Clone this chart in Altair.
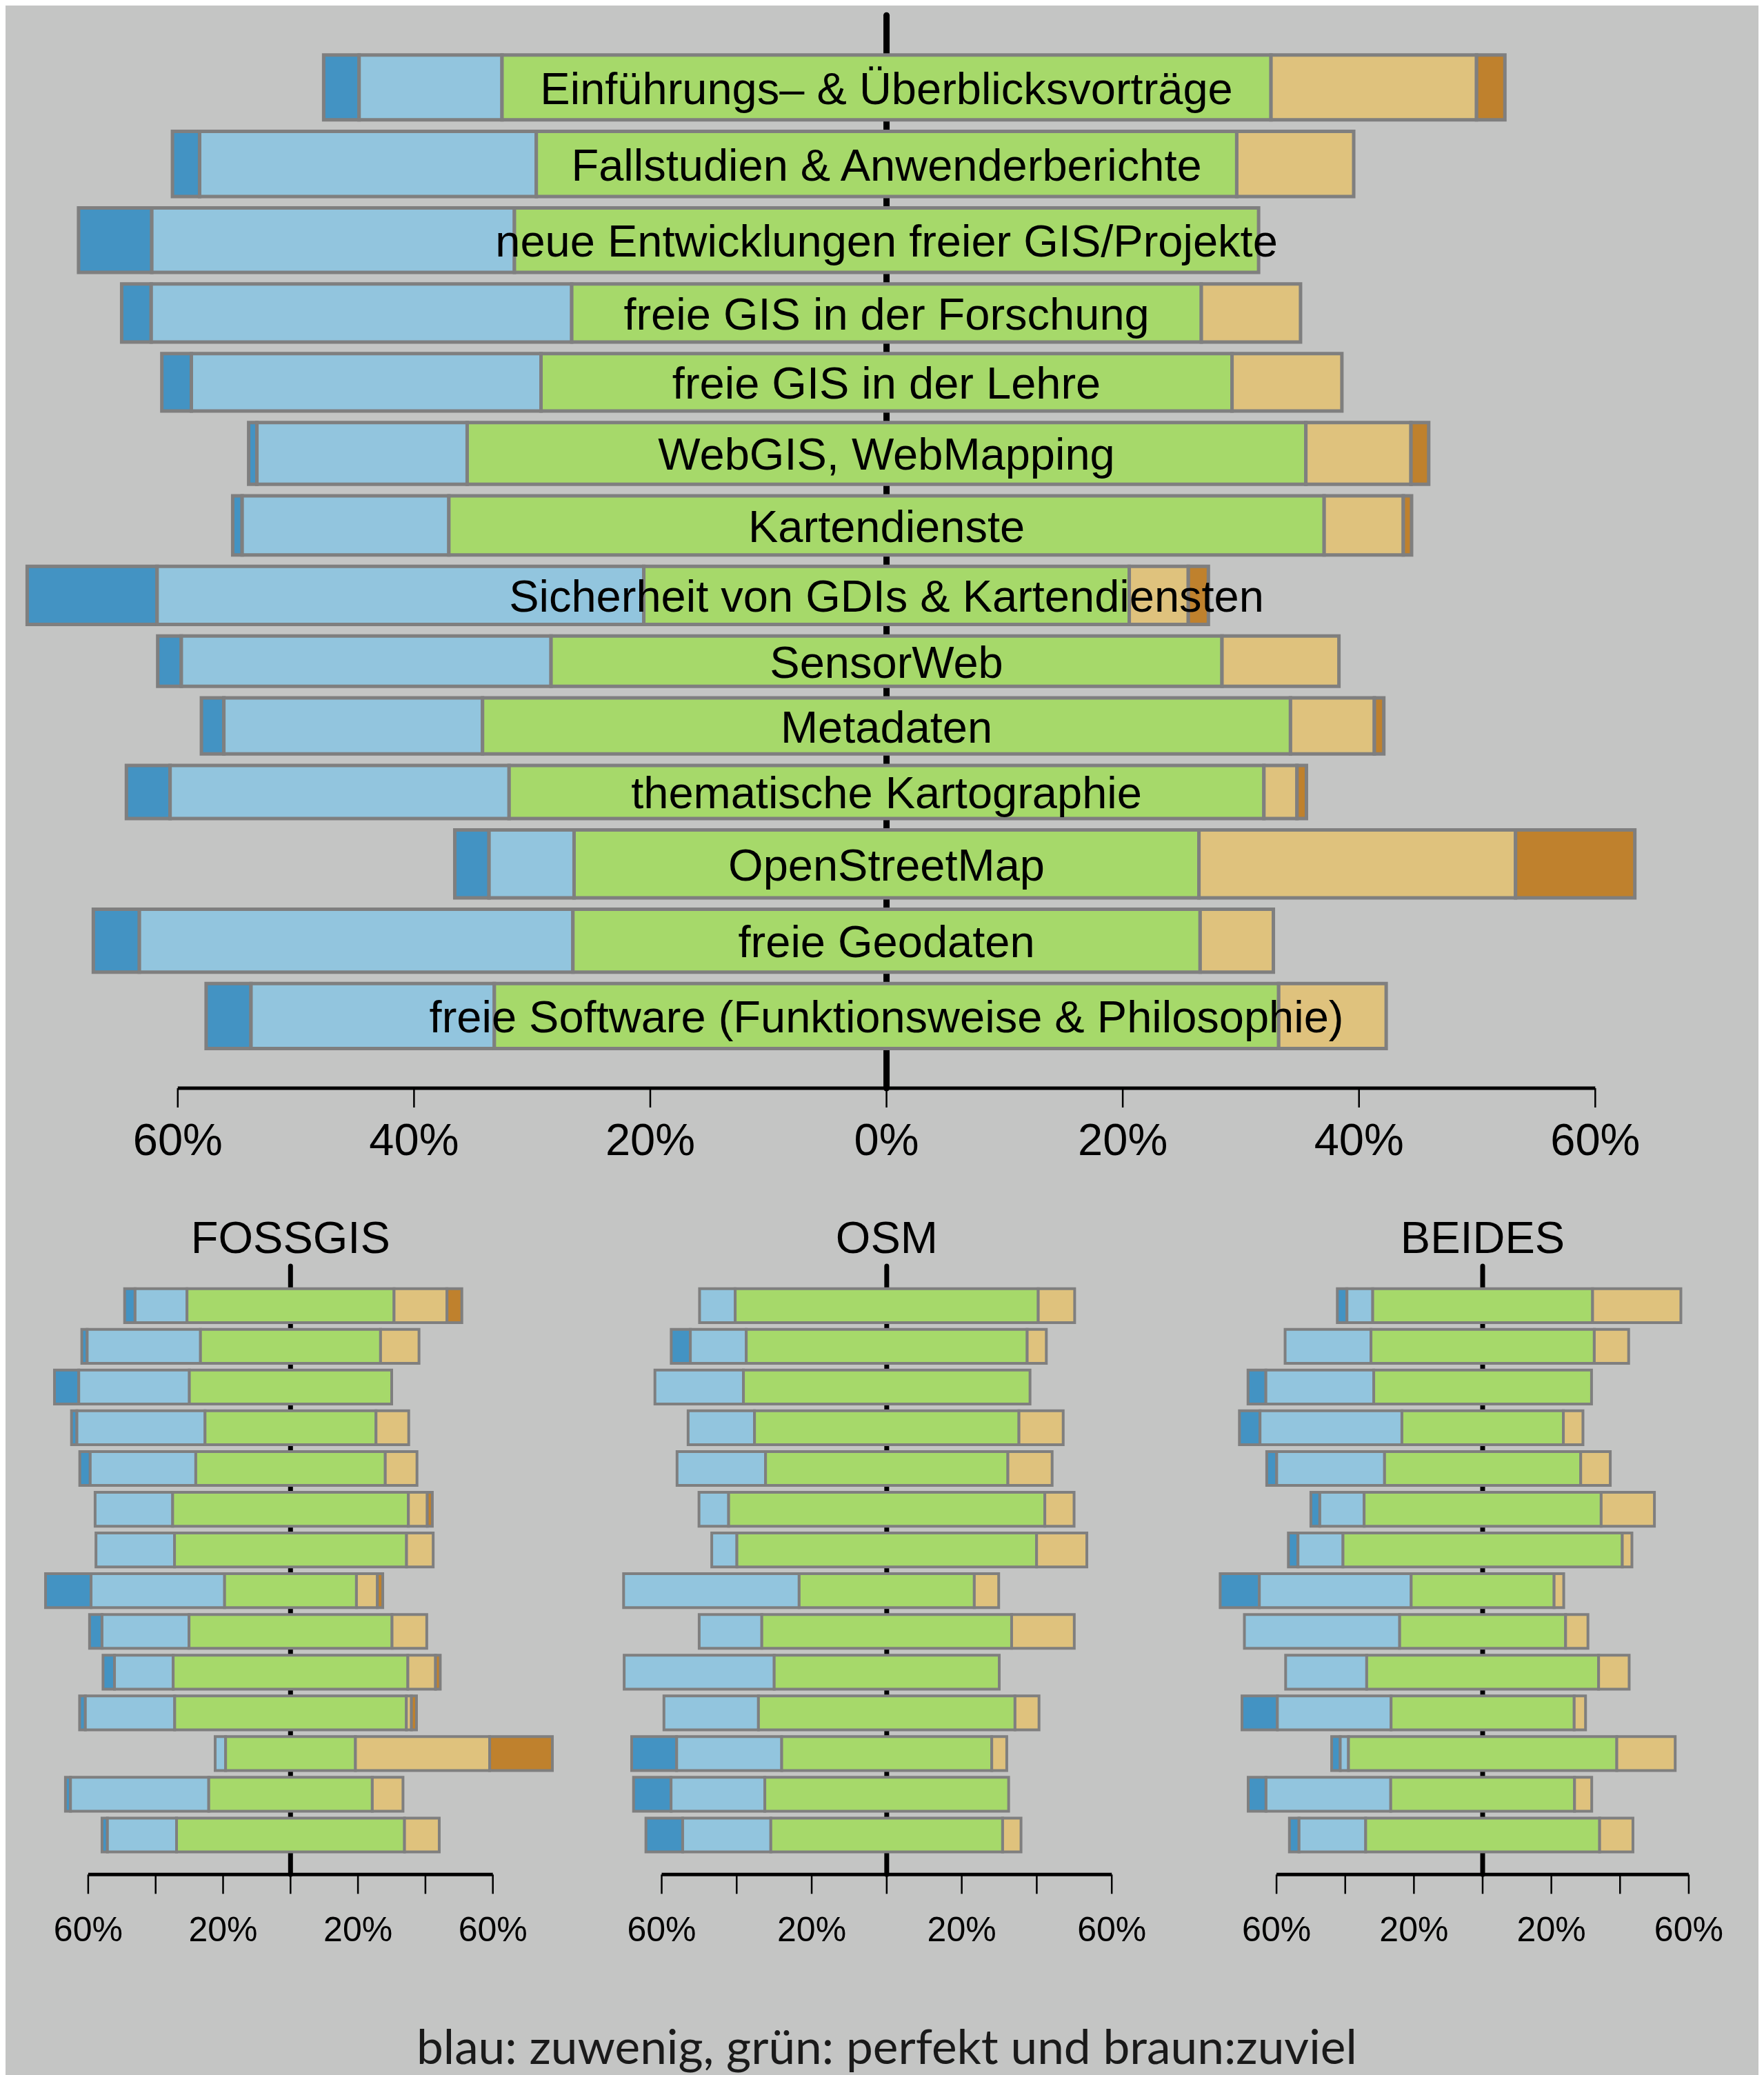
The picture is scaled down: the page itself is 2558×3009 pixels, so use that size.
import altair as alt
import pandas as pd

# ---------------------------------------------------------------- data
kategorien = [
    "Einführungs– & Überblicksvorträge",
    "Fallstudien & Anwenderberichte",
    "neue Entwicklungen freier GIS/Projekte",
    "freie GIS in der Forschung",
    "freie GIS in der Lehre",
    "WebGIS, WebMapping",
    "Kartendienste",
    "Sicherheit von GDIs & Kartendiensten",
    "SensorWeb",
    "Metadaten",
    "thematische Kartographie",
    "OpenStreetMap",
    "freie Geodaten",
    "freie Software (Funktionsweise & Philosophie)",
]

stufen = ["stark zuwenig", "zuwenig", "perfekt", "zuviel", "stark zuviel"]
farben = ["#4393C3", "#92C5DE", "#A6D96A", "#DFC27D", "#BF812D"]

# overall panel (percent)
gesamt_stark_zuwenig = [3.0, 2.3, 6.2, 2.5, 2.5, 0.7, 0.8, 11.0, 2.0, 1.9, 3.7, 2.9, 3.9, 3.8]
gesamt_zuwenig = [12.1, 28.5, 30.7, 35.6, 29.6, 17.8, 17.5, 41.2, 31.3, 21.9, 28.7, 7.2, 36.7, 20.6]
gesamt_perfekt = [65.1, 59.3, 63.0, 53.3, 58.5, 71.0, 74.1, 41.1, 56.8, 68.4, 63.9, 52.9, 53.1, 66.4]
gesamt_zuviel = [17.4, 9.9, 0.0, 8.4, 9.3, 8.9, 6.7, 5.0, 9.9, 7.1, 2.8, 26.8, 6.2, 9.1]
gesamt_stark_zuviel = [2.4, 0.0, 0.0, 0.0, 0.0, 1.5, 0.7, 1.7, 0.0, 0.8, 0.8, 10.1, 0.0, 0.0]
# relative bar thickness in the overall panel (mean = 1)
gesamt_balkenbreite = [1.075, 1.080, 1.069, 0.965, 0.953, 1.026, 0.980,
                       0.964, 0.836, 0.930, 0.881, 1.125, 1.042, 1.075]

fossgis_stark_zuwenig = [3.1, 1.6, 7.2, 1.6, 3.1, 0.0, 0.0, 13.5, 3.7, 3.4, 1.7, 0.0, 1.5, 1.6]
fossgis_zuwenig = [15.4, 33.6, 32.8, 38.0, 31.3, 23.0, 23.3, 39.6, 25.8, 17.4, 26.5, 3.1, 41.0, 20.5]
fossgis_perfekt = [61.4, 53.4, 60.0, 50.7, 56.2, 69.9, 68.8, 39.1, 60.2, 69.6, 68.7, 38.5, 48.5, 67.6]
fossgis_zuviel = [15.7, 11.4, 0.0, 9.7, 9.4, 5.6, 7.9, 6.2, 10.3, 8.2, 1.5, 39.8, 9.1, 10.3]
fossgis_stark_zuviel = [4.4, 0.0, 0.0, 0.0, 0.0, 1.5, 0.0, 1.6, 0.0, 1.4, 1.5, 18.6, 0.0, 0.0]

osm_stark_zuwenig = [0.0, 5.1, 0.0, 0.0, 0.0, 0.0, 0.0, 0.0, 0.0, 0.0, 0.0, 12.0, 10.0, 9.8]
osm_zuwenig = [9.5, 14.9, 23.6, 17.7, 23.6, 7.9, 6.7, 46.8, 16.7, 40.0, 25.2, 28.0, 25.0, 23.5]
osm_perfekt = [80.8, 74.9, 76.4, 70.5, 64.6, 84.3, 79.9, 46.7, 66.6, 60.0, 68.4, 56.0, 65.0, 61.8]
osm_zuviel = [9.7, 5.1, 0.0, 11.8, 11.8, 7.8, 13.4, 6.5, 16.7, 0.0, 6.4, 4.0, 0.0, 4.9]
osm_stark_zuviel = [0.0] * 14

beides_stark_zuwenig = [2.8, 0.0, 5.2, 6.0, 2.9, 2.6, 2.8, 11.4, 0.0, 0.0, 10.3, 2.5, 5.2, 2.8]
beides_zuwenig = [7.5, 25.0, 31.4, 41.3, 31.4, 12.9, 13.1, 44.2, 45.2, 23.6, 33.1, 2.4, 36.3, 19.4]
beides_perfekt = [64.0, 65.0, 63.4, 47.0, 57.1, 69.0, 81.3, 41.6, 48.3, 67.5, 53.3, 78.1, 53.5, 68.1]
beides_zuviel = [25.7, 10.0, 0.0, 5.7, 8.6, 15.5, 2.8, 2.8, 6.5, 8.9, 3.3, 17.0, 5.0, 9.7]
beides_stark_zuviel = [0.0] * 14

gruppen = ["FOSSGIS", "OSM", "BEIDES"]
achsen_werte = [-60, -40, -20, 0, 20, 40, 60]
achsen_text_gross = ["60%", "40%", "20%", "0%", "20%", "40%", "60%"]
achsen_text_klein = ["60%", "", "20%", "", "20%", "", "60%"]
beschriftung = "blau: zuwenig, grün: perfekt und braun:zuviel"

# ---------------------------------------------------------------- layout / style
BG = "#C4C5C4"
RAND = "#7F7F7F"
FONT = "Liberation Sans"
GESAMT_BREITE, GESAMT_HOEHE = 2542, 3001

# pixel ranges of the -60% .. +60% axis span and of the plot height for each panel
X_OBEN = [249.8, 2305.3]
Y_OBEN = [14.2, 1570.0]
X_UNTEN = [[119.9, 706.7], [951.5, 1604.2], [1843.1, 2440.9]]
Y_UNTEN = [1828.0, 2710.3]


def build_tables(dk, lb, gr, tn, br, breite, luecke):
    rows, labels = [], []
    y = 0.0
    for i, kat in enumerate(kategorien):
        h = gr[i] / 2.0
        segs = [
            (stufen[0], -h - lb[i] - dk[i], -h - lb[i]),
            (stufen[1], -h - lb[i], -h),
            (stufen[2], -h, h),
            (stufen[3], h, h + tn[i]),
            (stufen[4], h + tn[i], h + tn[i] + br[i]),
        ]
        y0, y1 = y, y + breite[i]
        for s, a, b in segs:
            if b - a > 0:
                rows.append({"kategorie": kat, "stufe": s, "x0": a, "x1": b, "y0": y0, "y1": y1})
        labels.append({"kategorie": kat, "ym": (y0 + y1) / 2})
        y = y1 + luecke
    total = y - luecke
    return pd.DataFrame(rows), pd.DataFrame(labels), total


def panel(dk, lb, gr, tn, br, breite, luecke, xr, yr, zero_w, stroke_w,
          tick_len, label_size, label_dy, tick_texts, with_labels, title=None,
          caption=None):
    df, lab, total = build_tables(dk, lb, gr, tn, br, breite, luecke)
    lo, hi = -0.04 * total, total * 1.04
    ppu = (yr[1] - yr[0]) / (hi - lo)
    xs = alt.Scale(domain=[achsen_werte[0], achsen_werte[-1]], range=xr, nice=False, zero=False)
    ys = alt.Scale(domain=[lo, hi], range=yr, nice=False, zero=False)
    one = pd.DataFrame({"v": [0]})
    ticks = pd.DataFrame({"v": achsen_werte, "lbl": tick_texts})

    def XD(v):
        return alt.X(datum=v, type="quantitative", scale=xs, axis=None)

    def YD(v):
        return alt.Y(datum=v, type="quantitative", scale=ys, axis=None)

    layers = []
    layers.append(alt.Chart(one).mark_rule(color="black", strokeWidth=zero_w, strokeCap="round").encode(
        x=XD(0), y=YD(lo), y2=alt.Y2(datum=hi)))
    layers.append(alt.Chart(one).mark_rule(color="black", strokeWidth=5).encode(
        x=XD(achsen_werte[0]), x2=alt.X2(datum=achsen_werte[-1]), y=YD(hi)))
    layers.append(alt.Chart(ticks).mark_rule(color="black", strokeWidth=2.5).encode(
        x=alt.X("v:Q", scale=xs, axis=None), y=YD(hi), y2=alt.Y2(datum=hi + tick_len / ppu)))
    layers.append(alt.Chart(ticks).mark_text(
        font=FONT, fontSize=label_size, color="black", align="center",
        baseline="top", dy=label_dy).encode(
        x=alt.X("v:Q", scale=xs, axis=None), y=YD(hi), text="lbl:N"))
    layers.append(alt.Chart(df).mark_rect(stroke=RAND, strokeWidth=stroke_w).encode(
        x=alt.X("x0:Q", scale=xs, axis=None),
        x2="x1:Q",
        y=alt.Y("y0:Q", scale=ys, axis=None),
        y2="y1:Q",
        color=alt.Color("stufe:N", scale=alt.Scale(domain=stufen, range=farben), legend=None),
    ))
    if with_labels:
        layers.append(alt.Chart(lab).mark_text(
            font=FONT, fontSize=65, color="black", align="center",
            baseline="middle", dy=4).encode(
            x=XD(0), y=alt.Y("ym:Q", scale=ys, axis=None), text="kategorie:N"))
    if title:
        layers.append(alt.Chart(pd.DataFrame({"t": [title]})).mark_text(
            font=FONT, fontSize=65, color="black", align="center",
            baseline="alphabetic", dy=-19).encode(x=XD(0), y=YD(lo), text="t:N"))
    if caption:
        layers.append(alt.Chart(pd.DataFrame({"t": [caption]})).mark_text(
            font="Lato", fontSize=69.4, color="#1A1A1A", align="center",
            baseline="alphabetic", dy=275).encode(x=XD(0), y=YD(hi), text="t:N"))
    return layers


alle = panel(gesamt_stark_zuwenig, gesamt_zuwenig, gesamt_perfekt, gesamt_zuviel,
             gesamt_stark_zuviel, gesamt_balkenbreite, 0.19, X_OBEN, Y_OBEN,
             zero_w=9, stroke_w=5, tick_len=28, label_size=65, label_dy=46,
             tick_texts=achsen_text_gross, with_labels=True)

gleich = [1.0] * 14
for k, (name, d) in enumerate(zip(gruppen, [
    (fossgis_stark_zuwenig, fossgis_zuwenig, fossgis_perfekt, fossgis_zuviel, fossgis_stark_zuviel),
    (osm_stark_zuwenig, osm_zuwenig, osm_perfekt, osm_zuviel, osm_stark_zuviel),
    (beides_stark_zuwenig, beides_zuwenig, beides_perfekt, beides_zuviel, beides_stark_zuviel),
])):
    alle += panel(*d, gleich, 0.2, X_UNTEN[k], Y_UNTEN, zero_w=7, stroke_w=4,
                  tick_len=28, label_size=50, label_dy=57,
                  tick_texts=achsen_text_klein, with_labels=False, title=name,
                  caption=beschriftung if name == "OSM" else None)

chart = alt.layer(*alle).resolve_scale(x="independent", y="independent").properties(
    width=GESAMT_BREITE,
    height=GESAMT_HOEHE,
    background=BG,
    padding=0,
    autosize=alt.AutoSizeParams(type="none"),
).configure_view(stroke=None)

chart.save("out.html", embed_options={"renderer": "svg", "actions": False})
